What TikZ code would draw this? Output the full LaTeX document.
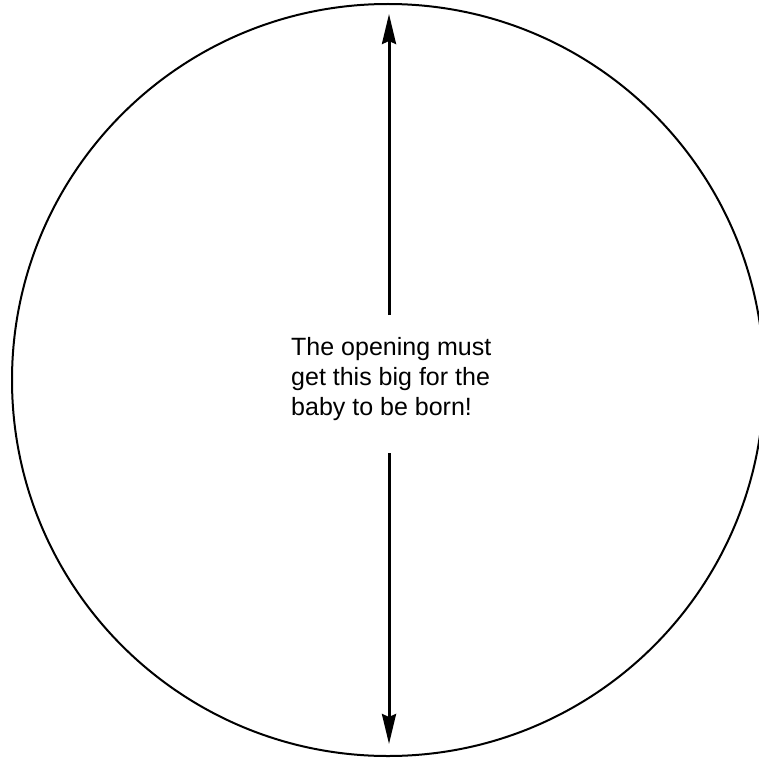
\documentclass[tikz,border=0pt]{standalone}
\usepackage{fontspec}
\setmainfont{Liberation Sans}
\usetikzlibrary{arrows.meta}
\tikzset{
  rim/.style={line width=2pt, black},
  dimarrow/.style={line width=3pt, -{Stealth[length=30pt,width=14pt,inset=3pt]}},
  label/.style={font=\fontsize{25pt}{30pt}\selectfont, align=left, inner sep=0pt, anchor=north west}
}
\begin{document}
\begin{tikzpicture}[x=1pt,y=-1pt]
\useasboundingbox (0,0) rectangle (759,757);
\fill[white] (0,0) rectangle (759,757);
\begin{scope}
\clip (0,0) rectangle (759,757);
\draw[rim] (388,380) circle[radius=376];
\end{scope}
\node[label] (txt) at (291,337) {The opening must\\get this big for the\\baby to be born!};
\coordinate (a1) at (389,315);
\coordinate (top) at (389,14);
\coordinate (a2) at (389,453);
\coordinate (bot) at (389,744);
\draw[dimarrow] (a1) -- (top);
\draw[dimarrow] (a2) -- (bot);
\end{tikzpicture}
\end{document}
